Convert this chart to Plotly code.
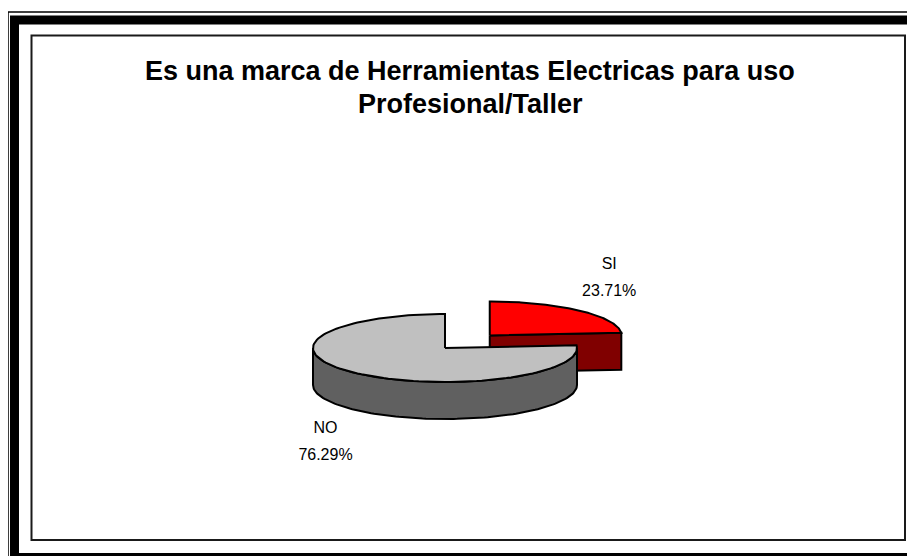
import numpy as np
import plotly.graph_objects as go

# ---- data ----
categories = ["SI", "NO"]
values = [23.71, 76.29]
title_lines = ["Es una marca de Herramientas Electricas para uso", "Profesional/Taller"]

# ---- style ----
top_colors = ["#FF0000", "#C0C0C0"]
side_colors = ["#800000", "#606060"]
explode = [0.5, 0.0]
W, H = 915, 556
OFF = 8                    # page body margin in the browser
CX, CY = 445, 348          # pie centre (screen pixel units on hidden axes)
RX, RY = 132, 34           # ellipse radii of top face
DEPTH = 37                 # pie thickness
LABEL_GAP = (30, 32)
LINE_STEP = 27
FONT = "Liberation Sans, Arial, sans-serif"

fig = go.Figure()

vals = np.array(values, dtype=float)
fracs = vals / vals.sum()
ends = np.cumsum(fracs) * 360.0
starts = ends - fracs * 360.0


def arc(cx, cy, a0, a1, dz=0.0, n=120):
    t = np.radians(np.linspace(a0, a1, n))
    return cx + RX * np.sin(t), cy - RY * np.cos(t) + dz


slices = []
for i, cat in enumerate(categories):
    a0, a1 = starts[i], ends[i]
    mid = np.radians((a0 + a1) / 2)
    cx = CX + explode[i] * RX * np.sin(mid)
    cy = CY - explode[i] * RY * np.cos(mid)
    slices.append((cy, i, a0, a1, mid, cx))

line = dict(color="black", width=2)

# paint back to front
for cy, i, a0, a1, mid, cx in sorted(slices):
    polys = []
    # radial face at end angle
    if np.sin(np.radians(a1)) > 1e-6:
        t = np.radians(a1)
        rx_, ry_ = cx + RX * np.sin(t), cy - RY * np.cos(t)
        polys.append(([cx, rx_, rx_, cx, cx], [cy, ry_, ry_ + DEPTH, cy + DEPTH, cy]))
    # radial face at start angle
    if np.sin(np.radians(a0)) < -1e-6:
        t = np.radians(a0)
        rx_, ry_ = cx + RX * np.sin(t), cy - RY * np.cos(t)
        polys.append(([cx, rx_, rx_, cx, cx], [cy, ry_, ry_ + DEPTH, cy + DEPTH, cy]))
    # outer curved wall (front half 90..270)
    w0, w1 = max(a0, 90), min(a1, 270)
    if w1 > w0:
        tx, ty = arc(cx, cy, w0, w1)
        bx, by = arc(cx, cy, w1, w0, DEPTH)
        polys.append((np.concatenate([tx, bx, tx[:1]]), np.concatenate([ty, by, ty[:1]])))
    for px, py in polys:
        fig.add_trace(go.Scatter(x=px, y=py, mode="lines", fill="toself",
                                 fillcolor=side_colors[i], line=line,
                                 hoverinfo="skip", showlegend=False))
    # top face
    tx, ty = arc(cx, cy, a0, a1)
    fig.add_trace(go.Scatter(x=np.concatenate([[cx], tx, [cx]]),
                             y=np.concatenate([[cy], ty, [cy]]),
                             mode="lines", fill="toself", fillcolor=top_colors[i],
                             line=line, name=categories[i],
                             hovertemplate=f"{categories[i]}: {values[i]:.2f}%<extra></extra>",
                             showlegend=False))

# data labels
lx, ly, lt = [], [], []
for cy, i, a0, a1, mid, cx in slices:
    rx_ = cx + RX * np.sin(mid)
    ry_ = cy - RY * np.cos(mid) + (DEPTH if np.cos(mid) < 0 else 0)
    x = rx_ + LABEL_GAP[0] * np.sign(np.sin(mid))
    y = ry_ + LABEL_GAP[1] * np.sign(-np.cos(mid))
    lx += [x, x]
    ly += [y - LINE_STEP / 2, y + LINE_STEP / 2]
    lt += [categories[i], f"{values[i]:.2f}%"]
fig.add_trace(go.Scatter(x=lx, y=ly, mode="text", text=lt,
                         textfont=dict(family=FONT, size=16, color="black"),
                         hoverinfo="skip", showlegend=False))

# frame
shapes = [
    dict(type="rect", x0=8, y0=12, x1=940, y1=580, line=dict(color="black", width=1.5), layer="below"),
    dict(type="rect", x0=14.5, y0=20, x1=940, y1=557.5, line=dict(color="black", width=9), layer="below"),
    dict(type="rect", x0=31.5, y0=35.5, x1=905, y1=540, line=dict(color="#1a1a1a", width=2),
         fillcolor="white", layer="below"),
]

annotations = []
for k, txt in enumerate(title_lines):
    annotations.append(dict(x=470, y=71 + 33 * k, xref="x", yref="y", text=f"<b>{txt}</b>",
                            showarrow=False, xanchor="center", yanchor="middle",
                            font=dict(family=FONT, size=27, color="black")))

fig.update_layout(
    width=W, height=H,
    margin=dict(l=0, r=0, t=0, b=0),
    paper_bgcolor="white", plot_bgcolor="white",
    xaxis=dict(range=[OFF, W + OFF], visible=False, domain=[0, 1], fixedrange=True),
    yaxis=dict(range=[H + OFF, OFF], visible=False, domain=[0, 1], fixedrange=True),
    shapes=shapes, annotations=annotations, showlegend=False,
)

fig.write_html("out.html")
